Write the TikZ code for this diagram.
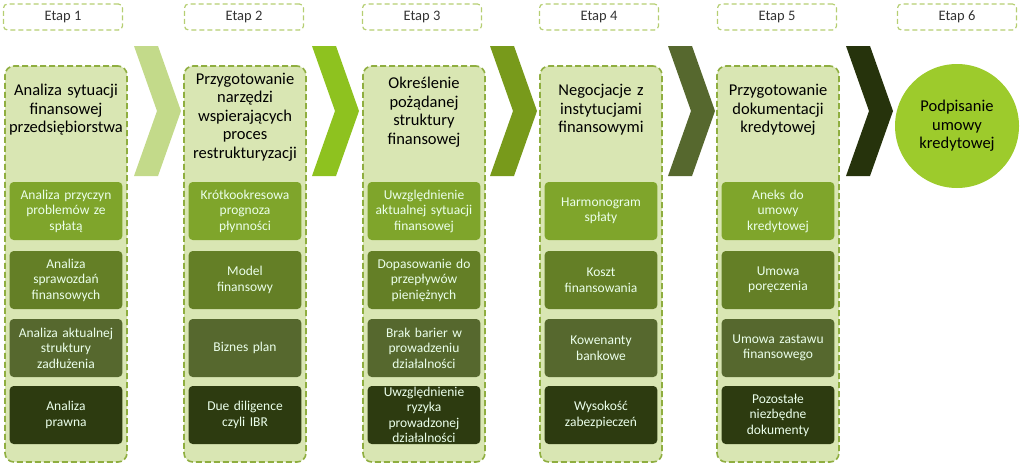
\documentclass[tikz,border=0pt]{standalone}
\usepackage{fontspec}
\setmainfont{Carlito}
\definecolor{pan}{HTML}{D9E6B3}
\definecolor{panb}{HTML}{8FAE40}
\definecolor{etb}{HTML}{B5CE72}
\definecolor{bA}{HTML}{7FA52B}
\definecolor{bB}{HTML}{647F26}
\definecolor{bC}{HTML}{56682E}
\definecolor{bD}{HTML}{2D3B10}
\definecolor{cA}{HTML}{C3DA8A}
\definecolor{cB}{HTML}{8EC21F}
\definecolor{cC}{HTML}{789A1B}
\definecolor{cD}{HTML}{56682E}
\definecolor{cE}{HTML}{26330C}
\definecolor{circ}{HTML}{9DCB2C}
\begin{document}
\begin{tikzpicture}[x=1pt,y=-1pt,
 etap/.style={draw=etb,dash pattern=on 5pt off 3pt,line width=1.2pt,rounded corners=4pt,minimum width=119pt,minimum height=26pt,font=\fontsize{14.5}{16}\selectfont,text=black!80},
 panel/.style={draw=panb,dash pattern=on 6pt off 3pt,fill=pan,line width=1.6pt,rounded corners=9pt,minimum width=122pt,minimum height=396pt},
 title/.style={align=center,font=\fontsize{16.5}{18.5}\selectfont,text width=124pt},
 box/.style={rounded corners=4pt,minimum width=103pt,minimum height=58pt,align=center,text=white!92!green,font=\fontsize{13.5}{15.5}\selectfont,text width=106pt}]
\useasboundingbox (0,0) rectangle (1024,471);
% etap labels
\foreach \i/\x in {1/63,2/244,3/422,4/599,5/777,6/957}
  \node[etap] (e\i) at (\x,17) {Etap \i};
% panels
\foreach \i/\x in {1/66,2/245,3/424,4/601,5/778}
  \node[panel] (p\i) at (\x,264) {};
% chevrons
\foreach \i/\x/\c in {1/134/cA,2/312/cB,3/490/cC,4/668/cD,5/846/cE}
  \fill[\c] (\x,46) -- (\x+24,46) -- (\x+47,111) -- (\x+24,176) -- (\x,176) -- (\x+23,111) -- cycle;
% titles
\node[title] (t1) at (66,110) {Analiza sytuacji\\finansowej\\przedsiębiorstwa};
\node[title] (t2) at (245,117) {Przygotowanie\\narzędzi\\wspierających\\proces\\restrukturyzacji};
\node[title] (t3) at (424,112) {Określenie\\pożądanej\\struktury\\finansowej};
\node[title] (t4) at (601,110) {Negocjacje z\\instytucjami\\finansowymi};
\node[title] (t5) at (778,110) {Przygotowanie\\dokumentacji\\kredytowej};
\node[circle,fill=circ,minimum size=124pt,align=center,font=\fontsize{16.5}{18.5}\selectfont] (c6) at (957,126) {Podpisanie\\umowy\\kredytowej};
% boxes
\foreach \i/\x in {1/66,2/245,3/424,4/601,5/778}{
  \node[box,fill=bA] (b\i a) at (\x,211) {};
  \node[box,fill=bB] (b\i b) at (\x,280) {};
  \node[box,fill=bC] (b\i c) at (\x,348) {};
  \node[box,fill=bD] (b\i d) at (\x,415) {};
}
\node[box] at (b1a) {Analiza przyczyn\\problemów ze\\spłatą};
\node[box] at (b1b) {Analiza\\sprawozdań\\finansowych};
\node[box] at (b1c) {Analiza aktualnej\\struktury\\zadłużenia};
\node[box] at (b1d) {Analiza\\prawna};
\node[box] at (b2a) {Krótkookresowa\\prognoza\\płynności};
\node[box] at (b2b) {Model\\finansowy};
\node[box] at (b2c) {Biznes plan};
\node[box] at (b2d) {Due diligence\\czyli IBR};
\node[box] at (b3a) {Uwzględnienie\\aktualnej sytuacji\\finansowej};
\node[box] at (b3b) {Dopasowanie do\\przepływów\\pieniężnych};
\node[box] at (b3c) {Brak barier w\\prowadzeniu\\działalności};
\node[box] at (b3d) {Uwzględnienie\\ryzyka\\prowadzonej\\działalności};
\node[box] at (b4a) {Harmonogram\\spłaty};
\node[box] at (b4b) {Koszt\\finansowania};
\node[box] at (b4c) {Kowenanty\\bankowe};
\node[box] at (b4d) {Wysokość\\zabezpieczeń};
\node[box] at (b5a) {Aneks do\\umowy\\kredytowej};
\node[box] at (b5b) {Umowa\\poręczenia};
\node[box] at (b5c) {Umowa zastawu\\finansowego};
\node[box] at (b5d) {Pozostałe\\niezbędne\\dokumenty};
\end{tikzpicture}
\end{document}
